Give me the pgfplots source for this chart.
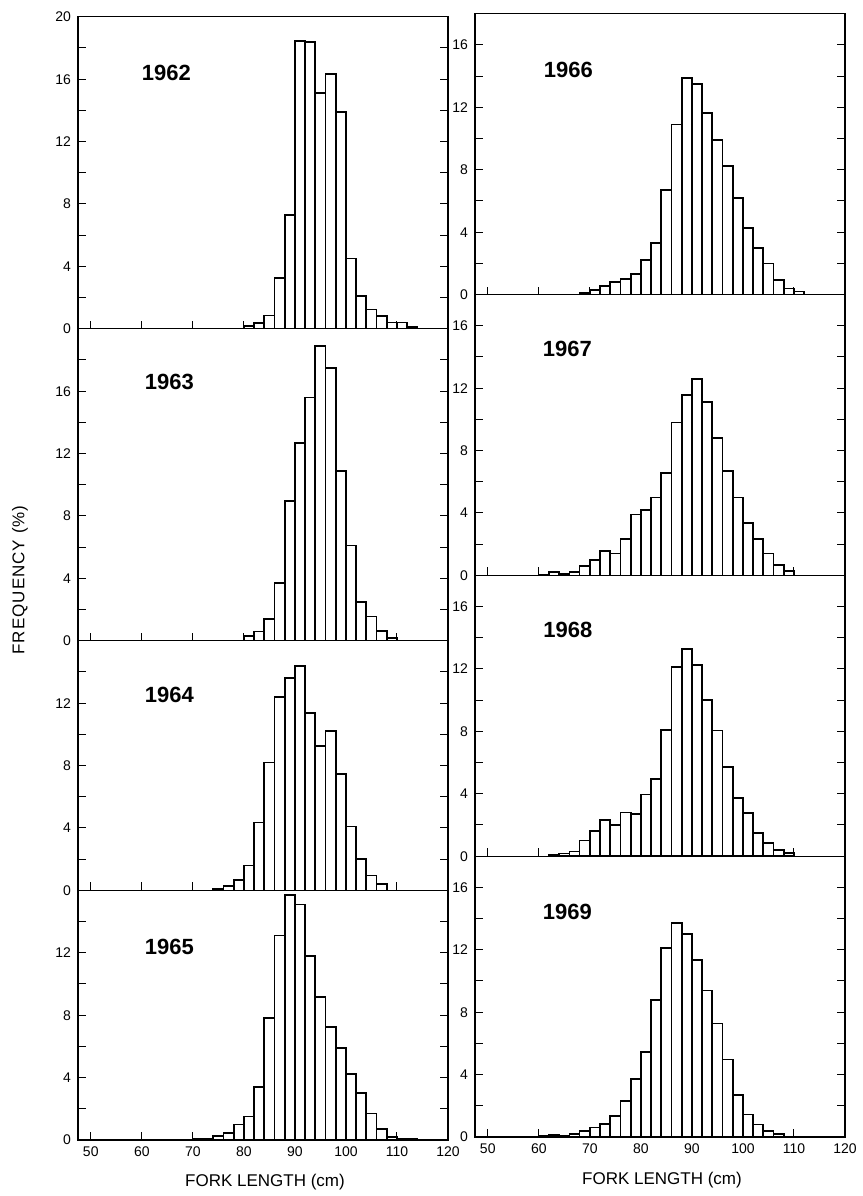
\documentclass[border=0pt]{standalone}
\usepackage{fontspec}
\setmainfont{Liberation Sans}
\usepackage{pgfplots}
\pgfplotsset{compat=1.18}
\pgfplotsset{
  panel/.style={scale only axis, width=185pt, xmin=47.5, xmax=120, ymin=0,
    anchor=south west,
    axis line style={line width=0.6pt},
    every tick/.style={black, line width=0.5pt},
    xtick={50,60,...,120}, xticklabels={}, xtick pos=bottom, ytick pos=both,
    tick align=inside, major tick length=4pt, minor tick length=4pt,
    minor ytick={2,6,...,18},
    ticklabel style={font=\fontsize{7}{8}\selectfont},
    /pgf/number format/assume math mode=true},
  bottompanel/.style={xticklabels={50,60,70,80,90,100,110,120}},
  hist/.style={ybar interval, fill=white, draw=black, line width=0.85pt},
}
\tikzset{yr/.style={font=\fontsize{11}{13}\selectfont\bfseries}}
\begin{document}
\begin{tikzpicture}[x=0.5pt,y=0.5pt]
\useasboundingbox (0,0) rectangle (863,1196);

% ---- left column
\begin{axis}[panel, at={(39pt,433.6pt)}, height=156pt, ymax=20, ytick={0,4,...,20}]
  \addplot[hist] coordinates {(80,0.2) (82,0.36) (84,0.85) (86,3.25) (88,7.3) (90,18.45)
    (92,18.4) (94,15.1) (96,16.35) (98,13.9) (100,4.5) (102,2.1) (104,1.23) (106,0.8)
    (108,0.4) (110,0.4) (112,0.1) (114,0)};
  \node[yr] at (axis cs:64.8,16.4) {1962};
\end{axis}
\begin{axis}[panel, at={(39pt,277.6pt)}, height=156pt, ymax=20, ytick={0,4,...,16}]
  \addplot[hist] coordinates {(80,0.3) (82,0.6) (84,1.4) (86,3.7) (88,8.95) (90,12.7)
    (92,15.6) (94,18.9) (96,17.5) (98,10.9) (100,6.1) (102,2.5) (104,1.55) (106,0.65)
    (108,0.2) (110,0)};
  \node[yr] at (axis cs:65.4,16.6) {1963};
\end{axis}
\begin{axis}[panel, at={(39pt,152.8pt)}, height=124.8pt, ymax=16, ytick={0,4,...,12}]
  \addplot[hist] coordinates {(74,0.1) (76,0.3) (78,0.65) (80,1.6) (82,4.35) (84,8.2)
    (86,12.4) (88,13.6) (90,14.4) (92,11.35) (94,9.25) (96,10.2) (98,7.45) (100,4.1)
    (102,2.0) (104,0.95) (106,0.4) (108,0)};
  \node[yr] at (axis cs:65.4,12.5) {1964};
\end{axis}
\begin{axis}[panel, bottompanel, at={(39pt,28pt)}, height=124.8pt, ymax=16, ytick={0,4,...,12}]
  \addplot[hist] coordinates {(70,0.05) (72,0.05) (74,0.25) (76,0.45) (78,1.0) (80,1.5)
    (82,3.4) (84,7.8) (86,13.1) (88,15.7) (90,15.1) (92,11.8) (94,9.15) (96,7.25)
    (98,5.9) (100,4.25) (102,3.0) (104,1.7) (106,0.7) (108,0.2) (110,0.08) (112,0.05) (114,0)};
  \node[yr] at (axis cs:65.4,12.4) {1965};
\end{axis}

% ---- right column
\begin{axis}[panel, at={(237.5pt,450.7pt)}, height=140.4pt, ymax=18, ytick={0,4,...,16}]
  \addplot[hist] coordinates {(68,0.1) (70,0.3) (72,0.55) (74,0.8) (76,1.0) (78,1.3)
    (80,2.2) (82,3.3) (84,6.7) (86,10.9) (88,13.9) (90,13.5) (92,11.65) (94,9.9)
    (96,8.25) (98,6.2) (100,4.25) (102,3.0) (104,2.0) (106,0.95) (108,0.4) (110,0.2) (112,0)};
  \node[yr] at (axis cs:65.8,14.4) {1966};
\end{axis}
\begin{axis}[panel, at={(237.5pt,310.3pt)}, height=140.4pt, ymax=18, ytick={0,4,...,16}]
  \addplot[hist] coordinates {(60,0.06) (62,0.2) (64,0.1) (66,0.2) (68,0.6) (70,1.0)
    (72,1.55) (74,1.4) (76,2.35) (78,3.9) (80,4.2) (82,5.0) (84,6.55) (86,9.8)
    (88,11.55) (90,12.6) (92,11.1) (94,8.8) (96,6.7) (98,5.0) (100,3.37) (102,2.35)
    (104,1.4) (106,0.65) (108,0.28) (110,0)};
  \node[yr] at (axis cs:65.6,14.5) {1967};
\end{axis}
\begin{axis}[panel, at={(237.5pt,169.9pt)}, height=140.4pt, ymax=18, ytick={0,4,...,16}]
  \addplot[hist] coordinates {(62,0.1) (64,0.17) (66,0.3) (68,1.0) (70,1.6) (72,2.3)
    (74,2.0) (76,2.8) (78,2.7) (80,3.95) (82,4.95) (84,8.1) (86,12.15) (88,13.3)
    (90,12.25) (92,10.0) (94,8.05) (96,5.7) (98,3.75) (100,2.75) (102,1.5) (104,0.85)
    (106,0.38) (108,0.2) (110,0)};
  \node[yr] at (axis cs:65.7,14.5) {1968};
\end{axis}
\begin{axis}[panel, bottompanel, at={(237.5pt,29.5pt)}, height=140.4pt, ymax=18, ytick={0,4,...,16}]
  \addplot[hist] coordinates {(56,0.04) (58,0.04) (60,0.05) (62,0.15) (64,0.1) (66,0.2)
    (68,0.37) (70,0.6) (72,0.82) (74,1.34) (76,2.33) (78,3.73) (80,5.43) (82,8.77)
    (84,12.1) (86,13.7) (88,13.0) (90,11.36) (92,9.4) (94,7.28) (96,4.96) (98,2.7)
    (100,1.44) (102,0.8) (104,0.37) (106,0.17) (108,0)};
  \node[yr] at (axis cs:65.6,14.4) {1969};
\end{axis}

% ---- axis titles
\node[rotate=90, font=\fontsize{8.5}{10}\selectfont\addfontfeature{LetterSpace=6}] at (20,616) {FREQUENCY (\%)};
\node[font=\fontsize{8.5}{10}\selectfont] at (265,14) {FORK LENGTH (cm)};
\node[font=\fontsize{8.5}{10}\selectfont] at (662,16) {FORK LENGTH (cm)};
\end{tikzpicture}
\end{document}
